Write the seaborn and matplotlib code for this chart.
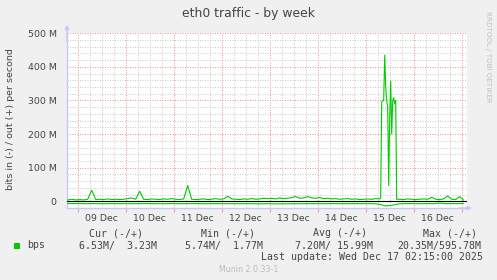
import matplotlib
matplotlib.use("Agg")
import matplotlib.pyplot as plt
from matplotlib.ticker import MultipleLocator, FuncFormatter, FixedLocator
from matplotlib.patches import Rectangle
import pandas as pd
import seaborn as sns

# ---------------- data (hours relative to 09 Dec 00:00, values in Mbit/s) -------------
out_hours_a = list(range(-5, 150, 2))
out_vals_a = [4, 6, 4, 5, 4, 6, 33, 5, 6, 5,
              7, 5, 6, 5, 6, 8, 10, 6, 30, 6,
              5, 7, 6, 5, 7, 6, 8, 6, 5, 7,
              47, 6, 5, 6, 7, 5, 6, 8, 6, 7,
              15, 7, 6, 5, 7, 6, 8, 6, 7, 9,
              8, 9, 7, 10, 8, 9, 11, 14, 9, 10,
              14, 10, 9, 11, 8, 9, 7, 8, 6, 7,
              8, 6, 7, 5, 6, 7, 6, 8]
out_hours_b = [151.0, 151.5, 152.0, 152.5, 153.0, 153.5, 154.0, 154.5, 155.0,
               155.5, 156.0, 156.5, 157.0, 157.5, 158.0, 158.5, 159.0, 159.5]
out_vals_b = [7, 9, 295, 300, 300, 435, 340, 300, 280,
              47, 250, 358, 200, 300, 308, 290, 300, 6]
out_hours_c = list(range(161, 194, 2))
out_vals_c = [6, 5, 7, 6, 5, 6, 7, 6, 12, 6, 5, 7, 16, 6, 5, 14, 3]

in_hours = list(range(-5, 194, 3))
in_vals = [6.5, 7, 6.8, 7.2, 6.9, 7, 7.3, 6.8, 7, 7.1,
           6.9, 7.2, 7, 6.8, 7.1, 7, 7.3, 6.9, 7, 7.2,
           7, 6.8, 7.1, 7.3, 7, 6.9, 7.2, 7, 7.4, 7.1,
           7, 7.3, 7.5, 7.2, 7.4, 7.6, 7.3, 7.5, 7.2, 7.4,
           7.1, 7.3, 7, 7.2, 6.9, 7.1, 7, 7.2, 6.9, 7.1,
           7, 7.2, 9, 14, 12, 8,
           7, 6.9, 7.1, 7, 6.8, 7.2, 5.5, 7, 6.9, 7.1, 6.5]

day_labels = ["09 Dec", "10 Dec", "11 Dec", "12 Dec", "13 Dec", "14 Dec", "15 Dec", "16 Dec"]
y_ticks = [0, 100, 200, 300, 400, 500]
y_tick_labels = ["0", "100 M", "200 M", "300 M", "400 M", "500 M"]

stat_headers = ["Cur (-/+)", "Min (-/+)", "Avg (-/+)", "Max (-/+)"]
stat_values = ["6.53M/  3.23M", "5.74M/  1.77M", "7.20M/ 15.99M", "20.35M/595.78M"]
series_name = "bps"
title = "eth0 traffic - by week"
ylabel = "bits in (-) / out (+) per second"
last_update = "Last update: Wed Dec 17 02:15:00 2025"
version = "Munin 2.0.33-1"
credit = "RRDTOOL / TOBI OETIKER"

out_df = pd.DataFrame({"h": out_hours_a + out_hours_b + out_hours_c,
                       "v": out_vals_a + out_vals_b + out_vals_c})
in_df = pd.DataFrame({"h": in_hours, "v": [-v for v in in_vals]})

# ---------------- figure -------------
sns.set_theme(style="white")
plt.rcParams['font.family'] = ['DejaVu Sans']
W, H = 497, 280
fig = plt.figure(figsize=(W / 100, H / 100), dpi=100, facecolor="#f0f0f0")

def fx(px):
    return px / W

def fy(py):
    return 1 - py / H

ax = fig.add_axes([67 / W, (H - 208) / H, 400 / W, (208 - 32.6) / H])
ax.set_facecolor("white")

GREEN = "#00cc00"
sns.lineplot(data=out_df, x="h", y="v", ax=ax, color=GREEN, lw=0.8,
             estimator=None, sort=False, legend=False, zorder=4)
sns.lineplot(data=in_df, x="h", y="v", ax=ax, color=GREEN, lw=0.8,
             estimator=None, sort=False, legend=False, zorder=4)
ax.axhline(0, color="black", lw=0.8, zorder=3)

ax.set_xlim(-5.35, 194.65)
ax.set_ylim(-20, 502)

# grids
dot = (0, (1.0, 1.4))
ax.xaxis.set_major_locator(MultipleLocator(24))
ax.xaxis.set_minor_locator(MultipleLocator(6))
ax.yaxis.set_major_locator(FixedLocator(y_ticks))
ax.yaxis.set_minor_locator(MultipleLocator(20))
ax.grid(which="major", color="#f09a9a", lw=0.75, linestyle=dot, zorder=1)
ax.grid(which="minor", color="#cfcfcf", lw=0.75, linestyle=dot, zorder=1)

def xfmt(h, pos):
    if abs((h - 12) % 24) < 1e-6:
        i = int(round((h - 12) / 24))
        if 0 <= i < len(day_labels):
            return day_labels[i]
    return ""

ax.xaxis.set_major_formatter(FuncFormatter(lambda h, p: ""))
ax.xaxis.set_minor_formatter(FuncFormatter(xfmt))
ax.yaxis.set_major_formatter(FuncFormatter(lambda v, p: y_tick_labels[y_ticks.index(int(round(v)))] if int(round(v)) in y_ticks else ""))

TXT = "#444444"
ax.tick_params(bottom=True, left=True, which="both")
ax.tick_params(axis="x", which="major", length=3, color="#f09a9a", width=0.75, direction="out")
ax.tick_params(axis="x", which="minor", length=0, pad=4, labelsize=6.75, labelcolor=TXT)
ax.tick_params(axis="y", which="major", length=0, pad=7.5, labelsize=6.75, labelcolor=TXT)
ax.tick_params(axis="y", which="minor", length=0)

AXC = "#c4c8f4"
for s in ["top", "right"]:
    ax.spines[s].set_visible(False)
for s in ["left", "bottom"]:
    ax.spines[s].set_color(AXC)
    ax.spines[s].set_linewidth(1.0)
ax.set_xlabel("")
ax.set_ylabel("")

# axis arrows
ax.annotate("", xy=(0, 1.045), xytext=(0, 0.95), xycoords="axes fraction",
            arrowprops=dict(arrowstyle="-|>", color=AXC, lw=1.0, mutation_scale=6,
                            shrinkA=0, shrinkB=0), annotation_clip=False)
ax.annotate("", xy=(1.012, 0), xytext=(0.98, 0), xycoords="axes fraction",
            arrowprops=dict(arrowstyle="-|>", color=AXC, lw=1.0, mutation_scale=6,
                            shrinkA=0, shrinkB=0), annotation_clip=False)

# texts
fig.text(fx(248.5), fy(13.5), title, ha="center", va="center", fontsize=8.9, color=TXT)
fig.text(fx(11), fy(119), ylabel, ha="center", va="center", rotation=90, fontsize=6.8, color=TXT)
fig.text(fx(488), fy(56.5), credit, ha="center", va="center", rotation=270, fontsize=5.1, color="#c0c0c0")

MONO = dict(family="DejaVu Sans Mono", fontsize=7.1, color=TXT, va="center")
for hdr, x in zip(stat_headers, [89, 201, 313, 423]):
    fig.text(fx(x), fy(233), hdr, ha="left", **MONO)
for val, x in zip(stat_values, [79, 185, 295, 397]):
    fig.text(fx(x), fy(245.5), val, ha="left", **MONO)
fig.text(fx(27), fy(245.5), series_name, ha="left", **MONO)
fig.patches.append(Rectangle((fx(14), fy(249)), 6 / W, 6 / H, transform=fig.transFigure,
                             facecolor=GREEN, edgecolor="none"))
fig.text(fx(483), fy(257.5), last_update, ha="right", **MONO)
fig.text(fx(248.5), fy(269), version, ha="center", va="center", fontsize=5.65, color="#bbbbbb")

fig.savefig("out.png", dpi=100, facecolor=fig.get_facecolor())
